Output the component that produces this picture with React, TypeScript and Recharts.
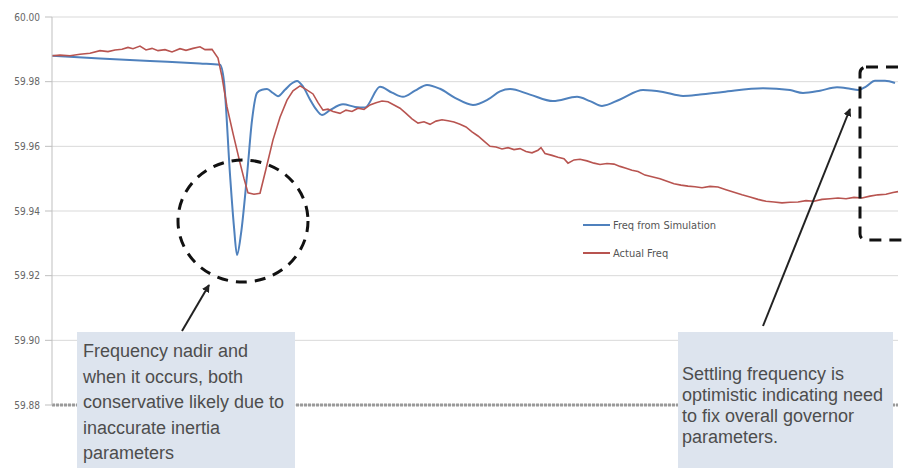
import React from 'react'
import { LineChart, Line, XAxis, YAxis, CartesianGrid, ReferenceLine } from 'recharts'

// frequency (Hz) vs sample index
const yTicks = [59.88, 59.9, 59.92, 59.94, 59.96, 59.98, 60.0]

const simT = [0, 48, 98, 148, 168, 172, 178, 182, 185, 189, 195, 200, 205, 210, 215, 221, 226, 233, 240, 245, 251, 258, 264, 270, 278, 291, 303, 313, 328, 340, 351, 363, 375, 388, 403, 421, 436, 448, 458, 478, 501, 525, 538, 550, 568, 591, 611, 631, 648, 671, 711, 738, 751, 768, 785, 798, 806, 814, 823, 833, 843]
const simV = [59.988, 59.9872, 59.9864, 59.9856, 59.9852, 59.98, 59.9513, 59.935, 59.9264, 59.933, 59.951, 59.968, 59.9765, 59.9775, 59.9777, 59.9765, 59.9755, 59.9775, 59.9795, 59.9802, 59.9785, 59.9745, 59.9715, 59.9697, 59.9712, 59.973, 59.9722, 59.972, 59.9784, 59.9766, 59.9753, 59.9772, 59.979, 59.9778, 59.975, 59.9728, 59.9745, 59.977, 59.9777, 59.976, 59.974, 59.9753, 59.974, 59.9725, 59.9745, 59.9774, 59.9768, 59.9756, 59.976, 59.9768, 59.978, 59.9774, 59.9765, 59.9772, 59.9783, 59.9778, 59.9774, 59.9785, 59.9803, 59.9803, 59.9796]

const actT = [0, 8, 18, 28, 38, 48, 56, 63, 70, 76, 81, 88, 94, 100, 106, 113, 120, 128, 134, 141, 148, 153, 160, 166, 170, 175, 181, 188, 192, 196, 202, 208, 214, 221, 228, 235, 241, 248, 254, 261, 266, 271, 276, 281, 288, 294, 300, 306, 312, 318, 324, 330, 336, 342, 348, 354, 360, 366, 372, 378, 384, 390, 396, 402, 408, 414, 420, 426, 432, 438, 444, 450, 456, 462, 468, 474, 480, 486, 489, 493, 500, 506, 512, 516, 522, 528, 535, 542, 548, 555, 562, 568, 574, 580, 586, 593, 600, 608, 615, 622, 629, 636, 643, 650, 658, 666, 674, 682, 690, 698, 706, 714, 722, 730, 738, 746, 754, 762, 770, 778, 786, 794, 802, 810, 818, 826, 834, 841, 846]
const actV = [59.988, 59.9882, 59.988, 59.9885, 59.9888, 59.9896, 59.9893, 59.9898, 59.99, 59.9906, 59.9902, 59.991, 59.9898, 59.9903, 59.9896, 59.9899, 59.9892, 59.9902, 59.9897, 59.9903, 59.9908, 59.9899, 59.99, 59.9873, 59.9815, 59.9722, 59.964, 59.9549, 59.95, 59.9456, 59.9452, 59.9455, 59.953, 59.962, 59.969, 59.9743, 59.9772, 59.9787, 59.9776, 59.9762, 59.9735, 59.9712, 59.9715, 59.9708, 59.9702, 59.9712, 59.9708, 59.9718, 59.9714, 59.9728, 59.9735, 59.974, 59.9738, 59.9728, 59.9718, 59.9702, 59.9685, 59.9672, 59.9676, 59.9668, 59.9678, 59.9682, 59.9679, 59.9675, 59.9668, 59.966, 59.9645, 59.9632, 59.9616, 59.96, 59.9598, 59.9592, 59.9596, 59.959, 59.9593, 59.9584, 59.958, 59.9588, 59.9596, 59.9578, 59.9572, 59.9566, 59.9562, 59.9548, 59.9558, 59.956, 59.9555, 59.9548, 59.9544, 59.9547, 59.9545, 59.9538, 59.9532, 59.9526, 59.9522, 59.9511, 59.9506, 59.95, 59.9492, 59.9484, 59.948, 59.9477, 59.9475, 59.9472, 59.9476, 59.9474, 59.9466, 59.9458, 59.945, 59.9443, 59.9436, 59.943, 59.9428, 59.9425, 59.9427, 59.9428, 59.9432, 59.943, 59.9436, 59.9438, 59.944, 59.9438, 59.9442, 59.944, 59.9446, 59.945, 59.9452, 59.9457, 59.946]

const simData = simT.map((t, i) => ({ t, v: simV[i] }))
const actData = actT.map((t, i) => ({ t, v: actV[i] }))

const BLUE = '#4f81bd'
const RED = '#b85450'

const leftNote = ['Frequency nadir and', 'when it occurs, both', 'conservative likely due to', 'inaccurate inertia', 'parameters']
const rightNote = ['Settling frequency is', 'optimistic indicating need', 'to fix overall governor', 'parameters.']

const legendItems = [
  { name: 'Freq from Simulation', color: BLUE },
  { name: 'Actual Freq', color: RED },
]

// legend drawn as a plain overlay so it doesn't eat into the plot area
function LegendBox() {
  return (
    <div style={{ position: 'absolute', left: 583, top: 211 }}>
      {legendItems.map(item => (
        <div key={item.name} style={{ display: 'flex', alignItems: 'center', height: 28 }}>
          <span style={{ display: 'inline-block', width: 27, height: 2, background: item.color }} />
          <span style={{ marginLeft: 3, fontSize: 11, color: '#555', fontFamily: '"Liberation Sans Narrow", "DejaVu Sans Condensed", sans-serif' }}>
            {item.name}
          </span>
        </div>
      ))}
    </div>
  )
}

const noteFont = { fontFamily: '"Liberation Sans", Arial, sans-serif', fontSize: 18, color: '#4d4d4d' }

export default function App() {
  return (
    <div style={{ position: 'fixed', left: 0, top: 0, width: 903, height: 468, background: '#fff', overflow: 'hidden' }}>
      <LineChart width={903} height={468} margin={{ top: 17, right: 5, bottom: 63, left: 0 }}>
        <CartesianGrid vertical={false} stroke="#d9d9d9" />
        <XAxis type="number" dataKey="t" domain={[0, 846]} hide allowDuplicatedCategory={false} />
        <YAxis
          width={52}
          domain={[59.88, 60.0]}
          ticks={yTicks}
          allowDataOverflow
          tickFormatter={(v: number) => v.toFixed(2)}
          tick={{ fontSize: 10, fill: '#666', fontFamily: '"Liberation Sans Narrow", "DejaVu Sans Condensed", sans-serif' }}
          tickSize={7}
          tickMargin={5}
          tickLine={{ stroke: '#bfbfbf' }}
          axisLine={{ stroke: '#bfbfbf' }}
        />
        <ReferenceLine y={59.88} stroke="#9a9a9a" strokeWidth={3} strokeDasharray="3 1" />
        <Line data={simData} dataKey="v" name="Freq from Simulation" type="monotone" stroke={BLUE} strokeWidth={2} dot={false} isAnimationActive={false} />
        <Line data={actData} dataKey="v" name="Actual Freq" type="linear" stroke={RED} strokeWidth={1.6} dot={false} isAnimationActive={false} />
      </LineChart>

      <LegendBox />

      <svg width={903} height={468} style={{ position: 'absolute', left: 0, top: 0, pointerEvents: 'none' }}>
        <defs>
          <marker id="head" markerWidth="8" markerHeight="8" refX="7" refY="4" orient="auto" markerUnits="userSpaceOnUse">
            <path d="M0,0 L8,4 L0,8 z" fill="#222" />
          </marker>
        </defs>
        <ellipse cx={243} cy={221} rx={65} ry={61} fill="none" stroke="#111" strokeWidth={3} strokeDasharray="11 8" />
        <rect x={860} y={67} width={70} height={173} rx={6} fill="none" stroke="#111" strokeWidth={3} strokeDasharray="12 8" />
        <line x1={182} y1={331} x2={209} y2={285} stroke="#222" strokeWidth={2} markerEnd="url(#head)" />
        <line x1={763} y1={326} x2={850} y2={109} stroke="#222" strokeWidth={2} markerEnd="url(#head)" />
      </svg>

      <div style={{ position: 'absolute', left: 77, top: 332, width: 218, height: 140, background: '#dde4ee', ...noteFont, lineHeight: '25.5px', paddingTop: 7, paddingLeft: 6, boxSizing: 'border-box' }}>
        {leftNote.map(l => <div key={l} style={{ whiteSpace: 'nowrap' }}>{l}</div>)}
      </div>
      <div style={{ position: 'absolute', left: 678, top: 332, width: 215, height: 140, background: '#dde4ee', ...noteFont, lineHeight: '21px', paddingTop: 32, paddingLeft: 4, boxSizing: 'border-box' }}>
        {rightNote.map(l => <div key={l} style={{ whiteSpace: 'nowrap' }}>{l}</div>)}
      </div>
    </div>
  )
}
